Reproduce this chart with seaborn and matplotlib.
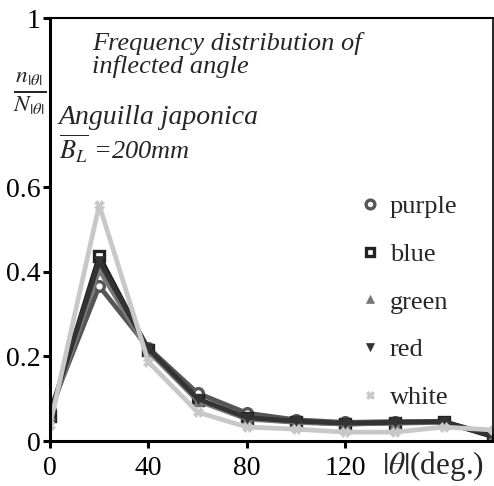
import numpy as np
import pandas as pd
import matplotlib
matplotlib.use("Agg")
import matplotlib.pyplot as plt
import seaborn as sns

# angle bins (deg.)
angles = [0, 20, 40, 60, 80, 100, 120, 140, 160, 180]

# relative frequency per colour group
purple = [0.073, 0.366, 0.220, 0.113, 0.066, 0.050, 0.044, 0.046, 0.046, 0.012]
blue = [0.060, 0.437, 0.215, 0.098, 0.054, 0.046, 0.040, 0.043, 0.045, 0.010]
green = [0.062, 0.405, 0.212, 0.095, 0.052, 0.044, 0.040, 0.042, 0.044, 0.015]
red = [0.066, 0.425, 0.218, 0.100, 0.055, 0.047, 0.042, 0.044, 0.046, 0.012]
white = [0.038, 0.558, 0.187, 0.068, 0.033, 0.028, 0.021, 0.021, 0.033, 0.026]

groups = ["purple", "blue", "green", "red", "white"]
series = [purple, blue, green, red, white]

xticks = [0, 40, 80, 120]
yticks = [0, 0.2, 0.4, 0.6, 1]
ytick_labels = ["0", "0.2", "0.4", "0.6", "1"]

sns.set_style("white")
plt.rcParams["font.family"] = ["Liberation Serif", "DejaVu Serif"]
plt.rcParams["mathtext.fontset"] = "stix"

colors = {"purple": "#555555", "blue": "#222222", "green": "#777777",
          "red": "#333333", "white": "#c8c8c8"}
markers = {"purple": "o", "blue": "s", "green": "^", "red": "v", "white": "X"}

fig = plt.figure(figsize=(4.94, 4.86), dpi=100)
ax = fig.add_axes([50 / 494, 45 / 486, 443 / 494, 423 / 486])

for name, vals in zip(groups, series):
    df = pd.DataFrame({"angle": angles, "freq": vals})
    open_mark = name in ("purple", "blue")
    sns.lineplot(data=df, x="angle", y="freq", ax=ax, color=colors[name],
                 linewidth=3.4, marker=markers[name], markersize=7,
                 markerfacecolor="white" if open_mark else colors[name],
                 markeredgecolor=colors[name], markeredgewidth=2.4 if open_mark else 0.5,
                 label=name)

ax.set_xlim(0, 180)
ax.set_ylim(0, 1)
ax.set_xticks(xticks)
ax.set_xticklabels([str(t) for t in xticks])
ax.set_yticks(yticks)
ax.set_yticklabels(ytick_labels)
ax.set_xlabel("")
ax.set_ylabel("")
ax.tick_params(axis="both", direction="out", length=5, width=2.2, labelsize=20,
               bottom=True, left=True, pad=2, colors="black")
ax.tick_params(axis="x", pad=6)
for sp in ax.spines.values():
    sp.set_linewidth(2.2)
    sp.set_color("black")
ax.spines["right"].set_linewidth(1.2)
ax.spines["top"].set_linewidth(1.5)

# axis labels drawn as text
fig.text(30 / 494, 1 - 94 / 486, r"$\frac{n_{|\theta|}}{N_{|\theta|}}$", fontsize=24,
         ha="center", va="center")
fig.text(433 / 494, 1 - 466 / 486, r"$|\theta|$(deg.)", fontsize=22.5,
         ha="center", va="center")

# annotation
ax.text(0.095, 0.968, "Frequency distribution of\ninflected angle", transform=ax.transAxes,
        fontsize=19, style="italic", va="top", ha="left", linespacing=1.0)
ax.text(0.02, 0.765, "Anguilla japonica", transform=ax.transAxes,
        fontsize=20, style="italic", va="center", ha="left")
ax.text(0.02, 0.69, r"$\overline{B_{L}}$ =200mm", transform=ax.transAxes,
        fontsize=19, style="italic", va="center", ha="left")

leg = ax.legend(loc="upper right", bbox_to_anchor=(0.955, 0.62), frameon=False,
                fontsize=19, handlelength=0.6, handletextpad=0.45, labelspacing=0.92,
                borderaxespad=0.2, markerscale=0.9)
for h in leg.legend_handles:
    h.set_linestyle("none")

fig.savefig("out.png", dpi=100)
